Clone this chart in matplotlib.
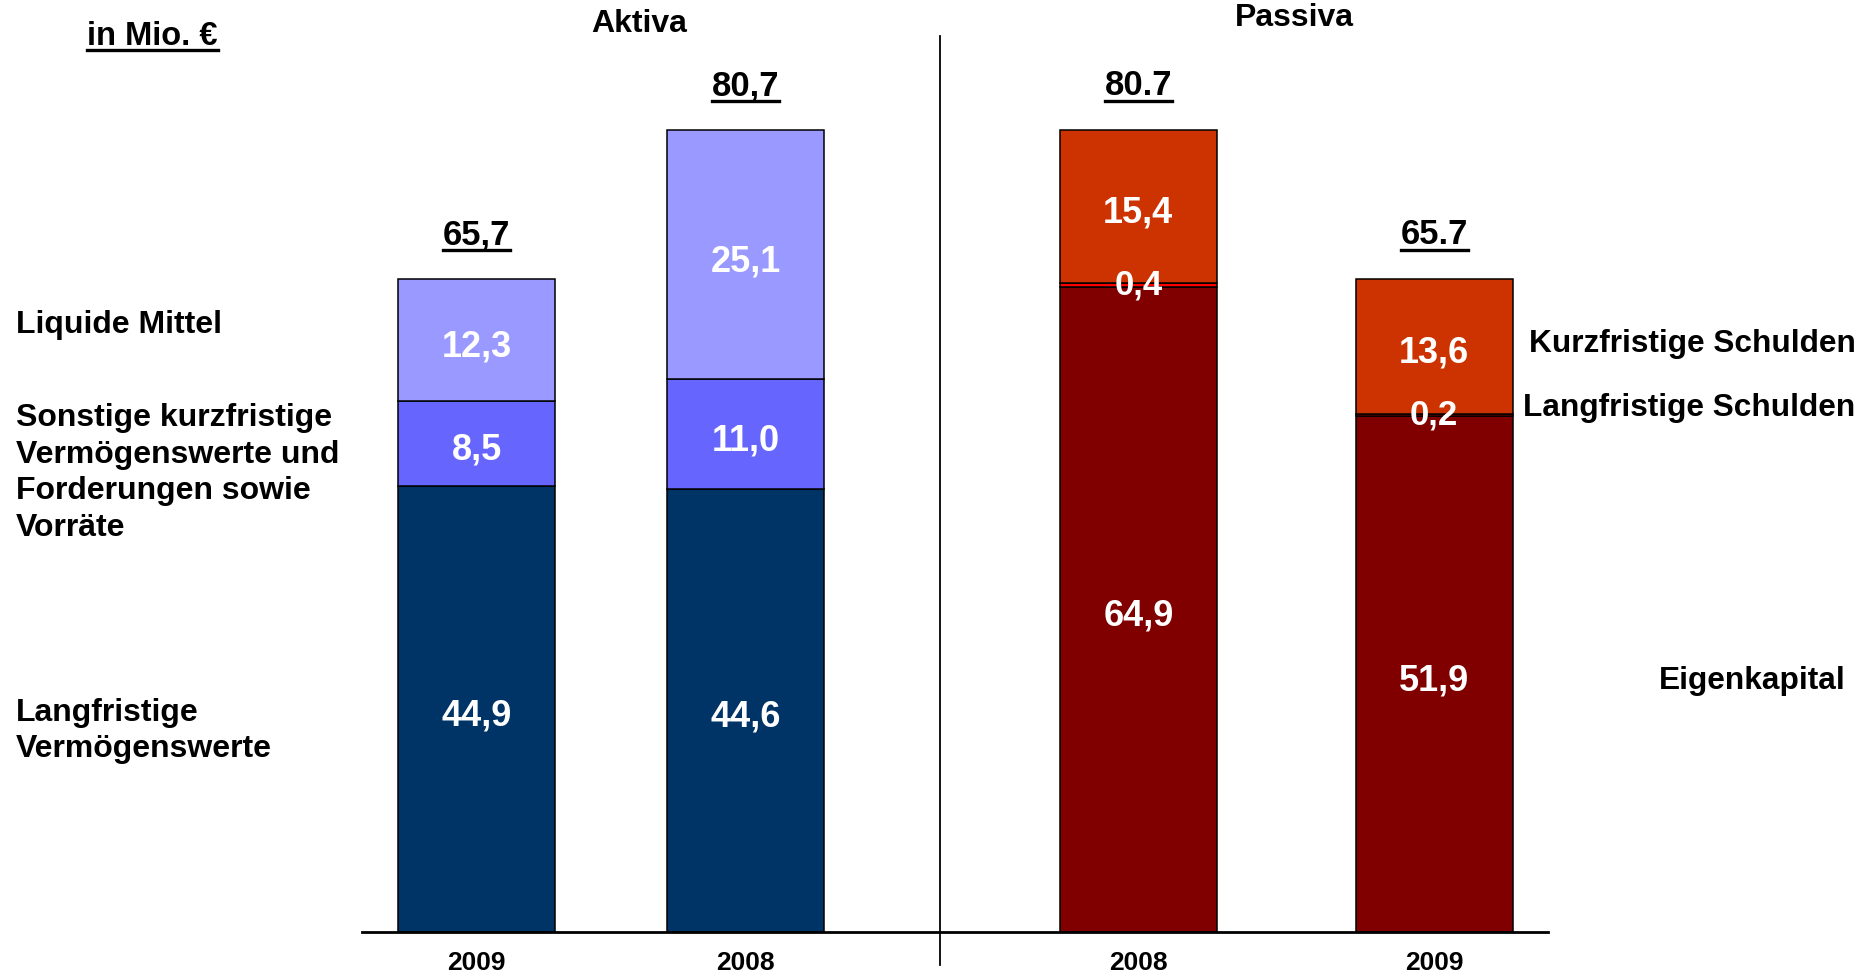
import matplotlib
matplotlib.use("Agg")
import matplotlib.pyplot as plt
from matplotlib.lines import Line2D
from matplotlib.transforms import IdentityTransform

plt.rcParams['font.family'] = ['Liberation Sans', 'DejaVu Sans']
plt.rcParams['font.weight'] = 'bold'

# data (in Mio. EUR)
years = ["2009", "2008", "2008", "2009"]
totals = ["65,7", "80,7", "80.7", "65.7"]

aktiva_long = [44.9, 44.6]      # Langfristige Vermögenswerte
aktiva_other = [8.5, 11.0]      # Sonstige kurzfristige Vermögenswerte ...
aktiva_cash = [12.3, 25.1]      # Liquide Mittel

passiva_equity = [64.9, 51.9]   # Eigenkapital
passiva_long = [0.4, 0.2]       # Langfristige Schulden
passiva_short = [15.4, 13.6]    # Kurzfristige Schulden

# layout
W, H, DPI = 1873, 977, 100
pos_aktiva = [0.0, 1.0]
pos_passiva = [2.46, 3.56]
bar_w = 0.584
sep_x = 1.723

fig = plt.figure(figsize=(W / DPI, H / DPI), dpi=DPI)
ax = fig.add_axes([362 / W, 45 / H, (1548 - 362) / W, 932 / H])
ax.set_xlim(-0.426, 3.983)
ax.set_ylim(0, 93.76)

edge = dict(edgecolor='black', linewidth=1.1)


def stack(positions, series, colors):
    bottoms = [0.0] * len(positions)
    segs = []
    for vals, col in zip(series, colors):
        ax.bar(positions, vals, bar_w, bottom=bottoms, color=col, **edge)
        segs.append((list(vals), list(bottoms)))
        bottoms = [b + v for b, v in zip(bottoms, vals)]
    return segs, bottoms


segs_a, top_a = stack(pos_aktiva, [aktiva_long, aktiva_other, aktiva_cash],
                      ['#003366', '#6666FF', '#9999FF'])
segs_p, top_p = stack(pos_passiva, [passiva_equity, passiva_long, passiva_short],
                      ['#800000', '#FF0000', '#CC3300'])

# values inside the bars
for positions, segs in ((pos_aktiva, segs_a), (pos_passiva, segs_p)):
    for vals, bottoms in segs:
        for x, v, b in zip(positions, vals, bottoms):
            small = v < 1
            ax.annotate(f"{v:.1f}".replace('.', ','), xy=(x, b + v / 2),
                        xytext=(0, 0 if small else -5), textcoords='offset points',
                        ha='center', va='center', color='white',
                        fontsize=25 if small else 26, fontweight='bold')

# axis styling
for s in ('left', 'right', 'top'):
    ax.spines[s].set_visible(False)
ax.spines['bottom'].set_linewidth(2)
ax.set_yticks([])
all_pos = pos_aktiva + pos_passiva
ax.set_xticks(all_pos)
ax.set_xticklabels(years, fontsize=19, fontweight='bold')
ax.tick_params(axis='x', length=0, pad=14)

# separator between Aktiva and Passiva
ax.plot([sep_x, sep_x], [-3.3, 90.1], color='black', lw=1.3, clip_on=False)

# totals above bars
total_texts = []
for x, top, lab in zip(all_pos, top_a + top_p, totals):
    t = ax.annotate(lab, xy=(x, top), xytext=(0, 25), textcoords='offset points',
                    ha='center', va='baseline', fontsize=25, fontweight='bold')
    total_texts.append(t)


# headings and category labels
def ftext(px, py, s, **kw):
    return fig.text(px / W, 1 - py / H, s, fontweight='bold', **kw)


unit = ftext(87, 45, "in Mio. €", fontsize=23.5, va='baseline', ha='left')
ftext(639, 24, "Aktiva", fontsize=23, va='center', ha='center')
ftext(1294, 18, "Passiva", fontsize=23, va='center', ha='center')

ftext(16, 325, "Liquide Mittel", fontsize=23, va='center', ha='left')
ftext(16, 473, "Sonstige kurzfristige\nVermögenswerte und\nForderungen sowie\nVorräte",
      fontsize=23, va='center', ha='left', linespacing=1.3)
ftext(16, 731, "Langfristige\nVermögenswerte", fontsize=23, va='center',
      ha='left', linespacing=1.3)

ftext(1529, 344, "Kurzfristige Schulden", fontsize=22.8, va='center', ha='left')
ftext(1523, 408, "Langfristige Schulden", fontsize=22.8, va='center', ha='left')
ftext(1846, 681, "Eigenkapital", fontsize=22.8, va='center', ha='right')

# underlines
fig.canvas.draw()
renderer = fig.canvas.get_renderer()
for t, x, top in zip(total_texts, all_pos, top_a + top_p):
    bb = t.get_window_extent(renderer)
    base = ax.transData.transform((x, top))[1] + 25 * DPI / 72
    y = base - 6
    fig.add_artist(Line2D([bb.x0, bb.x1], [y, y], transform=IdentityTransform(),
                          color='black', lw=2.4))
bb = unit.get_window_extent(renderer)
y = (1 - 45 / H) * H - 5
fig.add_artist(Line2D([bb.x0, bb.x1], [y, y], transform=IdentityTransform(),
                      color='black', lw=2.4))

fig.savefig("out.png", dpi=DPI)
